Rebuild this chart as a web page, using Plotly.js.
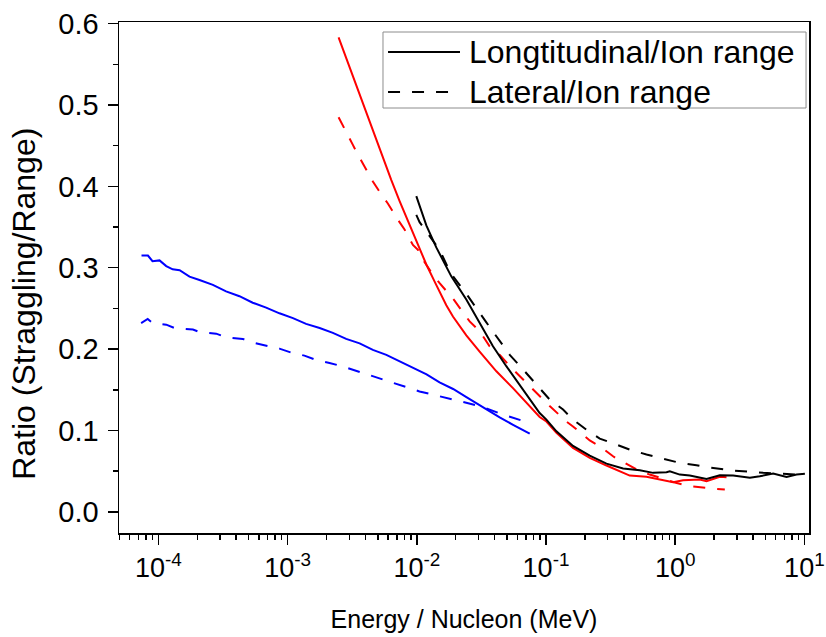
<!DOCTYPE html>
<html>
<head>
<meta charset="utf-8">
<script src="https://cdn.plot.ly/plotly-3.0.1.min.js"></script>
<style>html,body{margin:0;padding:0;background:#fff;}#chart{width:826px;height:637px;}</style>
</head>
<body>
<div id="chart"></div>
<script>
// ---- Data (Energy per nucleon in MeV, ratio straggling/range) ----
var blueLongE = [7.4e-5, 8.3e-5, 9.0e-5, 1.02e-4, 1.15e-4, 1.29e-4, 1.46e-4, 1.74e-4, 2.08e-4, 2.64e-4, 3.34e-4, 4.24e-4, 5.37e-4, 6.82e-4, 8.65e-4, 1.10e-3, 1.39e-3, 1.77e-3, 2.24e-3, 2.84e-3, 3.61e-3, 4.57e-3, 5.81e-3, 7.36e-3, 9.33e-3, 1.19e-2, 1.50e-2, 1.91e-2, 2.42e-2, 3.06e-2, 4.38e-2, 5.56e-2, 7.48e-2];
var blueLongR = [0.315, 0.315, 0.308, 0.309, 0.302, 0.298, 0.297, 0.289, 0.285, 0.279, 0.271, 0.265, 0.257, 0.251, 0.244, 0.238, 0.231, 0.226, 0.220, 0.2125, 0.207, 0.199, 0.193, 0.185, 0.178, 0.169, 0.159, 0.151, 0.141, 0.131, 0.116, 0.107, 0.096];

var blueLatE = [7.35e-5, 8.26e-5, 9.03e-5, 1.15e-4, 1.33e-4, 1.85e-4, 2.08e-4, 2.80e-4, 3.34e-4, 4.50e-4, 5.37e-4, 7.03e-4, 8.65e-4, 1.10e-3, 1.35e-3, 1.71e-3, 2.11e-3, 2.76e-3, 3.30e-3, 4.18e-3, 5.31e-3, 6.53e-3, 8.05e-3, 1.05e-2, 1.26e-2, 1.69e-2, 1.91e-2, 3.06e-2, 4.38e-2, 7.48e-2];
var blueLatR = [0.232, 0.237, 0.232, 0.230, 0.226, 0.224, 0.221, 0.219, 0.2145, 0.2125, 0.208, 0.2035, 0.2006, 0.195, 0.192, 0.186, 0.183, 0.178, 0.174, 0.1687, 0.1625, 0.1585, 0.154, 0.148, 0.145, 0.140, 0.138, 0.130, 0.121, 0.109];

var redLongE = [2.48e-3, 3.20e-3, 4.06e-3, 5.15e-3, 6.34e-3, 7.36e-3, 8.29e-3, 9.33e-3, 1.051e-2, 1.185e-2, 1.374e-2, 1.502e-2, 1.692e-2, 1.904e-2, 2.417e-2, 3.064e-2, 4.13e-2, 5.55e-2, 7.48e-2, 8.93e-2, 0.1007, 0.1204, 0.1618, 0.2181, 0.2938, 0.3949, 0.4446, 0.5995, 0.7161, 0.9638, 1.151, 1.549, 1.747, 2.215, 2.495];
var redLongR = [0.583, 0.535, 0.490, 0.445, 0.408, 0.382, 0.362, 0.342, 0.322, 0.304, 0.283, 0.270, 0.254, 0.240, 0.217, 0.197, 0.1727, 0.152, 0.130, 0.1165, 0.111, 0.097, 0.0786, 0.0663, 0.0569, 0.0479, 0.0446, 0.043, 0.0405, 0.0364, 0.0388, 0.0397, 0.0376, 0.043, 0.0425];

var redLatE = [2.48e-3, 2.76e-3, 3.20e-3, 3.50e-3, 4.06e-3, 4.57e-3, 5.31e-3, 5.97e-3, 7.14e-3, 7.59e-3, 8.04e-3, 9.33e-3, 1.020e-2, 1.051e-2, 1.333e-2, 1.502e-2, 1.928e-2, 2.565e-2, 2.754e-2, 3.064e-2, 3.66e-2, 4.375e-2, 5.55e-2, 6.64e-2, 8.93e-2, 0.1068, 0.1439, 0.1618, 0.2181, 0.2606, 0.3304, 0.3614, 0.407, 0.532, 0.564, 0.635, 0.76, 0.993, 1.297, 1.549, 2.026, 2.421];
var redLatR = [0.485, 0.470, 0.451, 0.439, 0.4205, 0.406, 0.390, 0.379, 0.359, 0.353, 0.347, 0.328, 0.322, 0.316, 0.2915, 0.281, 0.261, 0.234, 0.229, 0.222, 0.2035, 0.193, 0.175, 0.1625, 0.142, 0.130, 0.111, 0.105, 0.0877, 0.0806, 0.0683, 0.0643, 0.0602, 0.0499, 0.0491, 0.0458, 0.042, 0.036, 0.0315, 0.030, 0.0283, 0.0274];

var blackLongE = [9.91e-3, 1.185e-2, 1.415e-2, 1.849e-2, 2.417e-2, 3.064e-2, 3.886e-2, 4.93e-2, 6.25e-2, 7.92e-2, 8.93e-2, 0.1007, 0.1204, 0.1618, 0.2181, 0.2938, 0.3949, 0.532, 0.6745, 0.856, 0.908, 1.085, 1.297, 1.747, 2.215, 2.809, 3.784, 4.519, 5.733, 7.278, 8.70, 10.09];
var blackLongR = [0.388, 0.352, 0.325, 0.2894, 0.261, 0.232, 0.2035, 0.179, 0.1564, 0.134, 0.1215, 0.1134, 0.099, 0.081, 0.069, 0.0593, 0.0532, 0.0511, 0.0479, 0.0487, 0.0499, 0.0458, 0.0446, 0.0405, 0.045, 0.0446, 0.0418, 0.0437, 0.047, 0.043, 0.0458, 0.0467];

var blackLatE = [9.91e-3, 1.051e-2, 1.415e-2, 1.502e-2, 1.817e-2, 2.489e-2, 3.411e-2, 4.375e-2, 5.24e-2, 6.64e-2, 8.43e-2, 0.1068, 0.1355, 0.1618, 0.2056, 0.2606, 0.3508, 0.4446, 0.5995, 0.8054, 1.085, 1.462, 1.598, 2.648, 3.565, 4.797, 6.466, 8.70];
var blackLatR = [0.365, 0.356, 0.3276, 0.322, 0.294, 0.265, 0.234, 0.2096, 0.193, 0.175, 0.1564, 0.138, 0.1257, 0.1134, 0.101, 0.090, 0.0827, 0.0765, 0.0704, 0.0655, 0.0602, 0.0573, 0.056, 0.0511, 0.0491, 0.0479, 0.047, 0.0458];

var legendNames = ['Longtitudinal/Ion range', 'Lateral/Ion range'];
var xTickVals = [1e-4, 1e-3, 1e-2, 1e-1, 1, 10];
var xTickText = ['10<sup>-4</sup>', '10<sup>-3</sup>', '10<sup>-2</sup>', '10<sup>-1</sup>', '10<sup>0</sup>', '10<sup>1</sup>'];
var xTitle = 'Energy / Nucleon (MeV)';
var yTitle = 'Ratio (Straggling/Range)';

// ---- Build chart ----
var FONT = 'Liberation Sans, Arial, Helvetica, sans-serif';
var DASH = '12px,12px';
function tr(x, y, color, dash, name) {
  return {x: x, y: y, type: 'scatter', mode: 'lines', name: name, showlegend: false,
          line: {color: color, width: 2, dash: dash}, hoverinfo: 'skip'};
}
var data = [
  tr(blueLongE, blueLongR, '#0000ff', 'solid', 'blue ' + legendNames[0]),
  tr(blueLatE, blueLatR, '#0000ff', DASH, 'blue ' + legendNames[1]),
  tr(redLongE, redLongR, '#ff0000', 'solid', 'red ' + legendNames[0]),
  tr(redLatE, redLatR, '#ff0000', DASH, 'red ' + legendNames[1]),
  tr(blackLongE, blackLongR, '#000000', 'solid', 'black ' + legendNames[0]),
  tr(blackLatE, blackLatR, '#000000', DASH, 'black ' + legendNames[1])
];

var minorX = [];
for (var d = -5; d <= 0; d++) {
  for (var k = 2; k <= 9; k++) {
    var v = k * Math.pow(10, d);
    if (v >= 5e-5 && v <= 10.8) minorX.push(v);
  }
}

// legend box (paper coordinates)
var LG = {x0: 0.3826, x1: 0.9957, y0: 0.8317, y1: 0.9804, lx0: 0.3899, lx1: 0.4942, tx: 0.5043, r1: 0.9413, r2: 0.863};

var layout = {
  width: 826, height: 637,
  margin: {l: 119, r: 17, t: 22, b: 104, pad: 0},
  paper_bgcolor: '#ffffff', plot_bgcolor: '#ffffff',
  font: {family: FONT, color: '#000000'},
  showlegend: false,
  xaxis: {
    type: 'log', range: [-4.305, 1.0356],
    tickmode: 'array', tickvals: xTickVals, ticktext: xTickText,
    ticks: 'outside', ticklen: 10, tickwidth: 1.5, tickcolor: '#000',
    tickfont: {family: FONT, size: 27, color: '#000'},
    showline: true, linecolor: '#000', linewidth: 1.5, mirror: true,
    showgrid: false, zeroline: false,
    minor: {tickmode: 'array', tickvals: minorX, ticks: 'outside', ticklen: 5, tickwidth: 1.5, tickcolor: '#000', showgrid: false},
    title: {text: xTitle, font: {family: FONT, size: 25, color: '#000'}, standoff: 28}
  },
  yaxis: {
    range: [-0.026, 0.602],
    tickmode: 'linear', tick0: 0, dtick: 0.1, tickformat: '.1f',
    ticks: 'outside', ticklen: 10, tickwidth: 1.5, tickcolor: '#000',
    tickfont: {family: FONT, size: 29, color: '#000'},
    ticklabelstandoff: 3,
    showline: true, linecolor: '#000', linewidth: 1.5, mirror: true,
    showgrid: false, zeroline: false,
    minor: {tickmode: 'linear', tick0: 0.05, dtick: 0.1, ticks: 'outside', ticklen: 5, tickwidth: 1.5, tickcolor: '#000', showgrid: false}
  },
  shapes: [
    {type: 'rect', xref: 'paper', yref: 'paper', x0: LG.x0, x1: LG.x1, y0: LG.y0, y1: LG.y1,
     line: {color: '#8c8c8c', width: 1}, fillcolor: '#ffffff', layer: 'above'},
    {type: 'line', xref: 'paper', yref: 'paper', x0: LG.lx0, x1: LG.lx1, y0: LG.r1, y1: LG.r1,
     line: {color: '#000', width: 2, dash: 'solid'}},
    {type: 'line', xref: 'paper', yref: 'paper', x0: LG.lx0, x1: LG.lx1, y0: LG.r2, y1: LG.r2,
     line: {color: '#000', width: 2, dash: DASH}}
  ],
  annotations: [
    {text: yTitle, xref: 'paper', yref: 'paper', x: -0.138, y: 0.448,
     xanchor: 'center', yanchor: 'middle', textangle: -90, showarrow: false,
     font: {family: FONT, size: 32, color: '#000'}},
    {text: legendNames[0], xref: 'paper', yref: 'paper', x: LG.tx, y: LG.r1,
     xanchor: 'left', yanchor: 'middle', showarrow: false,
     font: {family: FONT, size: 32, color: '#000'}},
    {text: legendNames[1], xref: 'paper', yref: 'paper', x: LG.tx, y: LG.r2,
     xanchor: 'left', yanchor: 'middle', showarrow: false,
     font: {family: FONT, size: 32, color: '#000'}}
  ]
};

Plotly.newPlot('chart', data, layout, {displayModeBar: false, staticPlot: true});
</script>
</body>
</html>
